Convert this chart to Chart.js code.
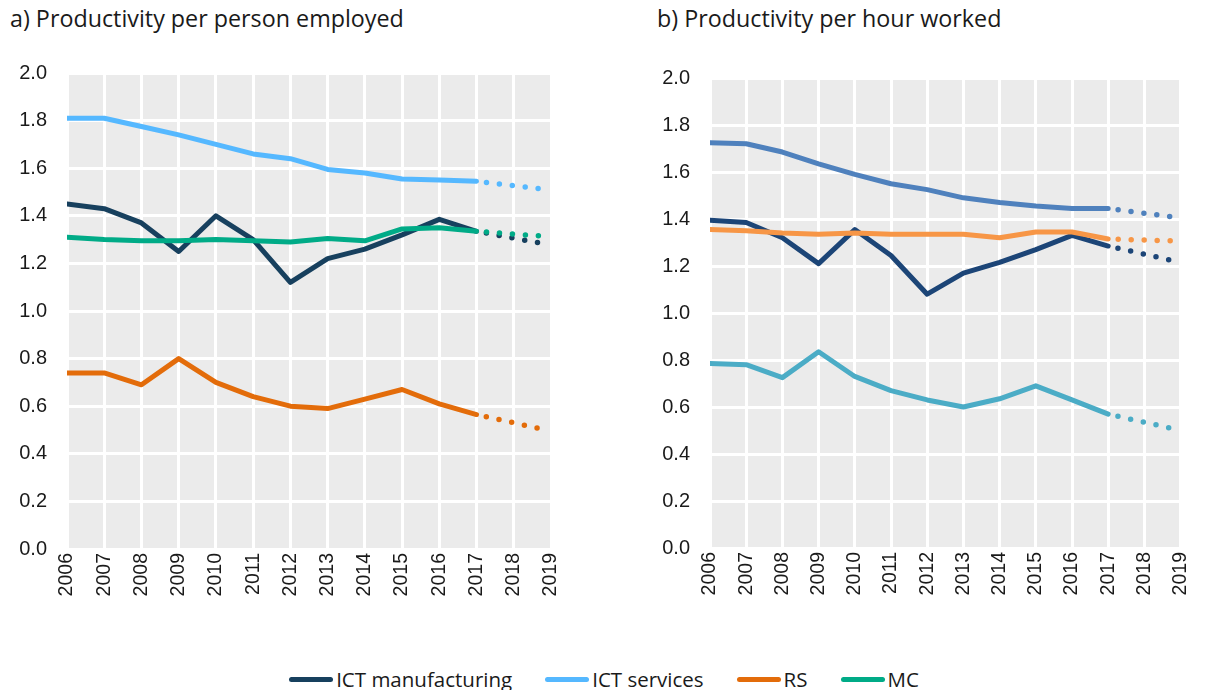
<!DOCTYPE html>
<html>
<head>
<meta charset="utf-8">
<script src="https://cdn.jsdelivr.net/npm/chart.js@4.4.1/dist/chart.umd.min.js"></script>
<style>
  body{margin:0;background:#fff;font-family:"Open Sans",sans-serif;width:1208px;height:690px;overflow:hidden;position:relative}
  .title{position:absolute;top:2px;font-size:23.3px;color:#1a1a1a;white-space:nowrap}
  .wrap{position:absolute;top:0;width:604px;height:640px}
  .legend{position:absolute;top:665px;left:0;width:1208px;display:flex;justify-content:center;gap:33px;font-size:20.5px;color:#1a1a1a}
  .legend span{display:flex;align-items:center}
  .legend i{display:inline-block;width:44px;height:5px;border-radius:3px;margin-right:3px}
</style>
</head>
<body>
<div class="title" style="left:10px">a) Productivity per person employed</div>
<div class="title" style="left:657px">b) Productivity per hour worked</div>
<div class="wrap" style="left:0"><canvas id="left"></canvas></div>
<div class="wrap" style="left:604px"><canvas id="right"></canvas></div>
<div class="legend">
  <span><i style="background:#17405e"></i>ICT manufacturing</span>
  <span><i style="background:#55b8ff"></i>ICT services</span>
  <span><i style="background:#e36c0a"></i>RS</span>
  <span><i style="background:#00ab87"></i>MC</span>
</div>
<script>
const years = [2006,2007,2008,2009,2010,2011,2012,2013,2014,2015,2016,2017]
const projYears = [2017, 2018.72]
const seriesNames = ['ICT manufacturing','ICT services','RS','MC']

// a) per person employed
const personIctManuf = [1.45,1.43,1.37,1.25,1.40,1.30,1.12,1.22,1.26,1.32,1.385,1.335]
const personIctServ  = [1.81,1.81,1.775,1.74,1.70,1.66,1.64,1.595,1.58,1.555,1.55,1.545]
const personRS       = [0.74,0.74,0.69,0.80,0.70,0.64,0.60,0.59,0.63,0.67,0.61,0.565]
const personMC       = [1.31,1.30,1.295,1.295,1.30,1.295,1.29,1.305,1.295,1.345,1.35,1.335]
const personProjEnd  = [1.285,1.513,0.505,1.315]

// b) per hour worked
const hourIctManuf = [1.395,1.385,1.32,1.21,1.355,1.245,1.08,1.17,1.215,1.27,1.33,1.285]
const hourIctServ  = [1.725,1.72,1.685,1.635,1.59,1.55,1.525,1.49,1.47,1.455,1.445,1.445]
const hourRS       = [0.785,0.78,0.725,0.835,0.73,0.67,0.63,0.60,0.635,0.69,0.63,0.57]
const hourMC       = [1.355,1.35,1.34,1.335,1.34,1.335,1.335,1.335,1.32,1.345,1.345,1.315]
const hourProjEnd  = [1.225,1.41,0.51,1.307]

const yTicks = [0,0.2,0.4,0.6,0.8,1.0,1.2,1.4,1.6,1.8,2.0]
const xTicks = [2006,2007,2008,2009,2010,2011,2012,2013,2014,2015,2016,2017,2018,2019]

const colorsA = ['#17405e','#55b8ff','#e36c0a','#00ab87']
const colorsB = ['#1c4577','#4f81bd','#4bacc6','#f79646']

const plotBg = {
  id:'plotBg',
  beforeDraw(chart){
    const {ctx, chartArea:a} = chart
    ctx.save(); ctx.fillStyle = '#ebebeb'
    ctx.fillRect(a.left, a.top, a.right-a.left, a.bottom-a.top)
    ctx.restore()
  }
}

function buildDatasets(series, projEnd, colors){
  const ds = []
  series.forEach((vals,i)=>{
    ds.push({label:seriesNames[i], data:years.map((y,k)=>({x:y,y:vals[k]})),
      borderColor:colors[i], borderWidth:5, pointRadius:0, order:8-i*2,
      borderCapStyle:'round', borderJoinStyle:'round', tension:0})
    ds.push({label:seriesNames[i]+' proj', data:[{x:projYears[0],y:vals[vals.length-1]},{x:projYears[1],y:projEnd[i]}],
      borderColor:colors[i], borderWidth:5.5, pointRadius:0, order:7-i*2,
      borderDash:[0,13], borderDashOffset:3, borderCapStyle:'round'})
  })
  return ds
}

function makeChart(id, series, projEnd, colors, box){
  new Chart(document.getElementById(id), {
    type:'line',
    data:{datasets:buildDatasets(series, projEnd, colors)},
    options:{
      responsive:true, maintainAspectRatio:false, animation:false,
      layout:{padding:{top:box.top, right:box.right, left:0, bottom:0}},
      plugins:{legend:{display:false}, tooltip:{enabled:false}},
      scales:{
        x:{type:'linear', min:2006, max:2019,
          afterBuildTicks(s){ s.ticks = xTicks.map(v=>({value:v})) },
          afterFit(s){ s.height = box.xh },
          grid:{color:'#fff', lineWidth:3, drawTicks:false},
          border:{display:false},
          ticks:{autoSkip:false, minRotation:90, maxRotation:90, padding:4,
            color:'#1a1a1a', font:{family:'Liberation Sans', size:19.5}, callback:v=>String(v)}},
        y:{min:0, max:2,
          afterBuildTicks(s){ s.ticks = yTicks.map(v=>({value:v})) },
          afterFit(s){ s.width = box.yw },
          grid:{color:'#fff', lineWidth:3, drawTicks:false},
          border:{display:false},
          ticks:{padding:box.pad, color:'#1a1a1a', font:{family:'Liberation Sans', size:20}, callback:v=>v.toFixed(1)}}
      }
    },
    plugins:[plotBg]
  })
}

makeChart('left', [personIctManuf,personIctServ,personRS,personMC], personProjEnd, colorsA,
  {top:73, right:53, xh:91, yw:67, pad:20})
makeChart('right', [hourIctManuf,hourIctServ,hourRS,hourMC], hourProjEnd, colorsB,
  {top:78, right:15, xh:92, yw:106, pad:20})
</script>
</body>
</html>
